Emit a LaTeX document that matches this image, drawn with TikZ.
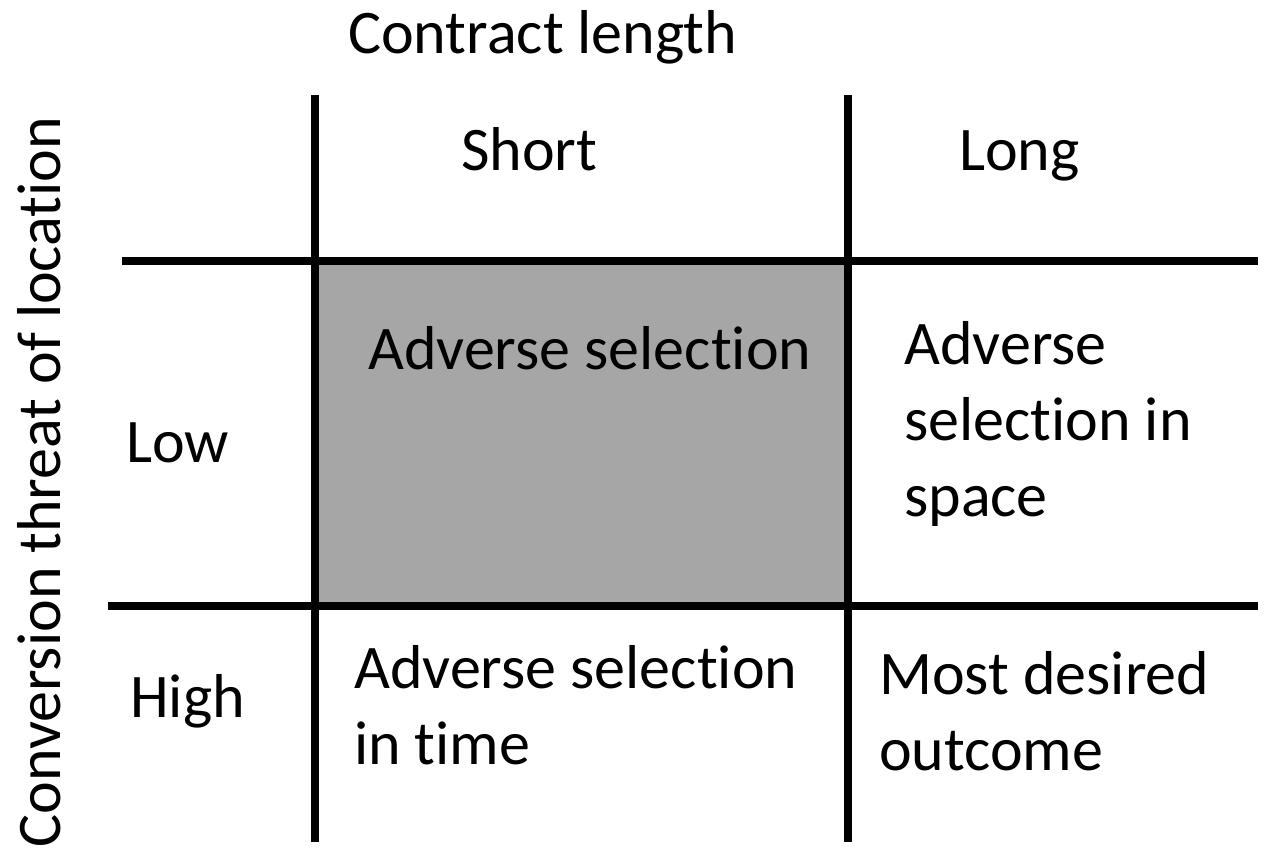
\documentclass[tikz,border=0pt]{standalone}
\usepackage{fontspec}
\setmainfont{Carlito}[Ligatures=NoCommon]
\begin{document}
\begin{tikzpicture}[x=1pt,y=-1pt,
  gridline/.style={line width=7.5pt,black},
  lbl/.style={anchor=base west,inner sep=0pt,font=\fontsize{62}{76}\selectfont,align=left},
  cellfill/.style={fill=black!35}]
\useasboundingbox (0,0) rectangle (1264,852);
\fill[cellfill] (315,261) rectangle (848,606);
\coordinate (v1t) at (315,95); \coordinate (v1b) at (315,842);
\coordinate (v2t) at (848,95); \coordinate (v2b) at (848,842);
\coordinate (h1l) at (122,261); \coordinate (h1r) at (1258,261);
\coordinate (h2l) at (108,606); \coordinate (h2r) at (1258,606);
\draw[gridline] (v1t) -- (v1b);
\draw[gridline] (v2t) -- (v2b);
\draw[gridline] (h1l) -- (h1r);
\draw[gridline] (h2l) -- (h2r);
\node[lbl] (title) at (348,53) {Contract length};
\node[lbl,anchor=base,rotate=90] (ytitle) at (60,482) {Conversion threat of location};
\node[lbl] (short) at (461,170) {Short};
\node[lbl] (long) at (959,170) {Long};
\node[lbl] (low) at (126,462) {Low};
\node[lbl] (high) at (130,717) {High};
\node[lbl] (c11) at (368,369) {Adverse selection};
\node[lbl] (c12) at (904,516) {Adverse\\selection in\\space};
\node[lbl] (c21) at (354,764) {Adverse selection\\in time};
\node[lbl] (c22) at (879,770) {Most desired\\outcome};
\end{tikzpicture}
\end{document}
